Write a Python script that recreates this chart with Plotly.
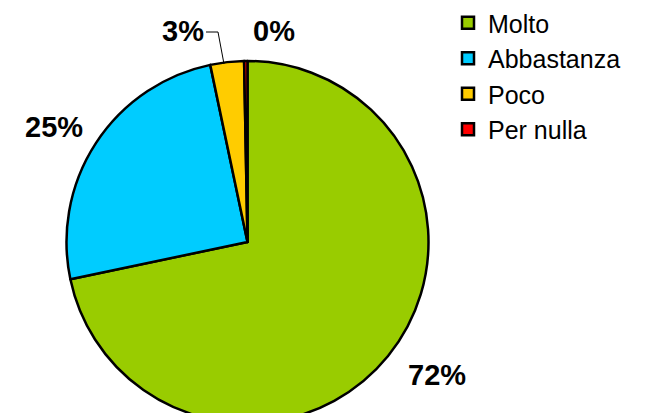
import plotly.graph_objects as go

categories = ["Molto", "Abbastanza", "Poco", "Per nulla"]
values = [71.7, 25.0, 3.0, 0.3]
colors = ["#99CC00", "#00CCFF", "#FFCC00", "#FF0000"]

W, H = 648, 430          # figure size (window shows 648x413, page has 8px body margin)
OFF = 8                  # page body margin

total = sum(values)
pct_labels = [f"{round(v / total * 100):.0f}%" for v in values]

# label anchor positions in window pixels for each slice
label_px = [(437, 375), (54, 127), (183, 31), (274, 31)]


def px(x, y):
    """window pixel -> paper coordinates"""
    return (x - OFF) / W, 1 - (y - OFF) / H


# pie geometry (window pixels)
cx, cy, r = 247.5, 242, 181
dx0, dy1 = px(cx - r, cy - r)
dx1, dy0 = px(cx + r, cy + r)

fig = go.Figure(go.Pie(
    labels=categories,
    values=values,
    sort=False,
    direction="clockwise",
    rotation=0,
    marker=dict(colors=colors, line=dict(color="black", width=2.5)),
    textinfo="none",
    hoverinfo="label+percent",
    domain=dict(x=[dx0, dx1], y=[dy0, dy1]),
))

annotations = []
for txt, (x, y) in zip(pct_labels, label_px):
    ax, ay = px(x, y)
    annotations.append(dict(
        x=ax, y=ay, xref="paper", yref="paper", text="<b>" + txt + "</b>",
        showarrow=False, xanchor="center", yanchor="middle",
        font=dict(family="Arial, Liberation Sans, sans-serif", size=29, color="black"),
    ))

x0, y0 = px(206, 32)
x1, y1 = px(218, 32)
x2, y2 = px(224, 64)
fig.add_shape(type="path", xref="paper", yref="paper",
              path=f"M {x0},{y0} L {x1},{y1} L {x2},{y2}",
              line=dict(color="black", width=1))

lx, ly = px(448, 0)
fig.update_layout(
    width=W, height=H,
    margin=dict(l=0, r=0, t=0, b=0, autoexpand=False),
    paper_bgcolor="white",
    plot_bgcolor="white",
    annotations=annotations,
    showlegend=True,
    legend=dict(
        x=lx, y=ly, xanchor="left", yanchor="top",
        font=dict(family="Arial, Liberation Sans, sans-serif", size=25, color="black"),
        bgcolor="rgba(0,0,0,0)",
        traceorder="normal",
    ),
)

fig.write_html("out.html")
